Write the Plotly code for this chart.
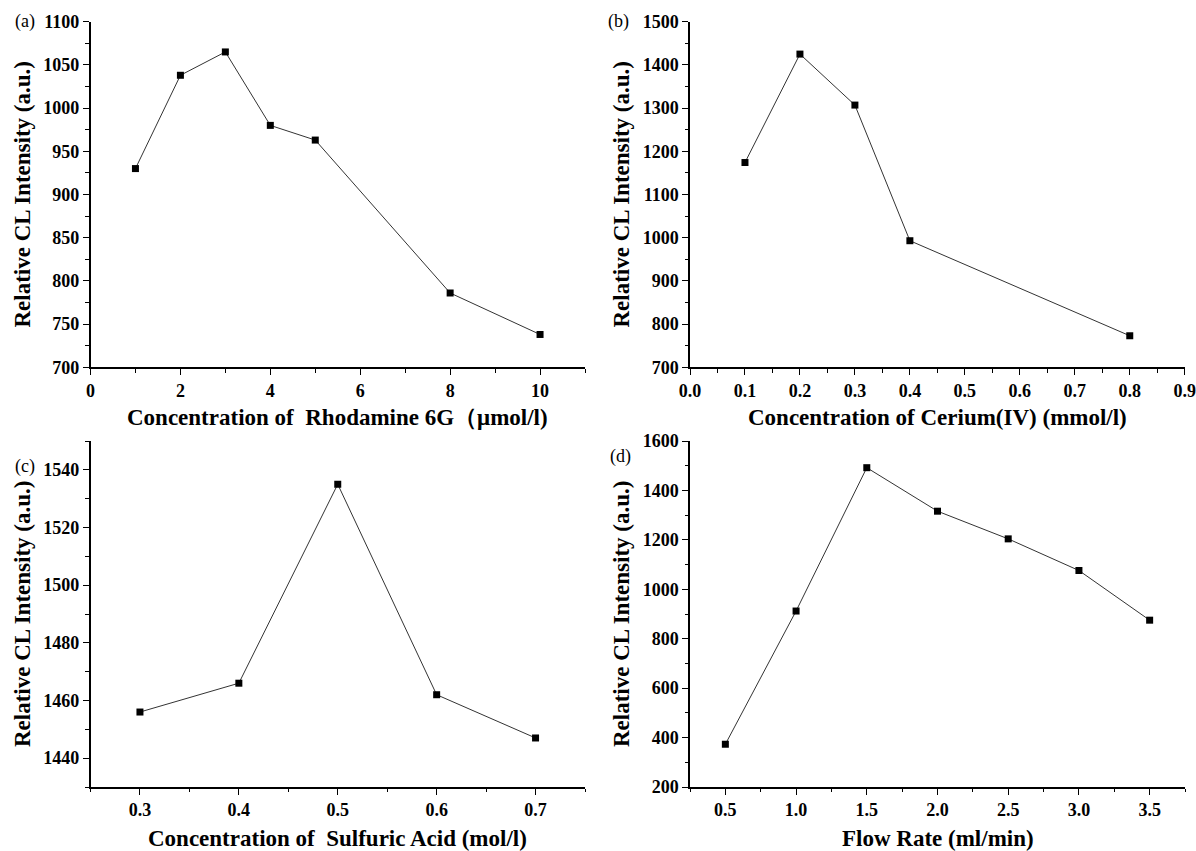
import plotly.graph_objects as go

# ---------------- data ----------------
a_x = [1, 2, 3, 4, 5, 8, 10]
a_y = [930, 1038, 1065, 980, 963, 786, 738]

b_x = [0.1, 0.2, 0.3, 0.4, 0.8]
b_y = [1174, 1425, 1307, 993, 773]

c_x = [0.3, 0.4, 0.5, 0.6, 0.7]
c_y = [1456, 1466, 1535, 1462, 1447]

d_x = [0.5, 1.0, 1.5, 2.0, 2.5, 3.0, 3.5]
d_y = [373, 912, 1492, 1316, 1204, 1076, 875]

y_title = "Relative CL Intensity (a.u.)"
x_titles = [
    "Concentration of  Rhodamine 6G（μmol/l)",
    "Concentration of Cerium(IV) (mmol/l)",
    "Concentration of  Sulfuric Acid (mol/l)",
    "Flow Rate (ml/min)",
]
panel_labels = ["(a)", "(b)", "(c)", "(d)"]

# ---------------- layout geometry ----------------
W, H = 1196, 851
FONT = "Liberation Serif"

def fx(px):
    return px / W

def fy(py):
    return 1 - py / H

left_dom = [fx(90.5), fx(585)]
right_dom = [fx(690), fx(1185)]
top_dom = [fy(367.3), fy(21.7)]
bot_dom = [fy(787), fy(441)]

fig = go.Figure()

series = [(a_x, a_y, "x", "y"), (b_x, b_y, "x2", "y2"),
          (c_x, c_y, "x3", "y3"), (d_x, d_y, "x4", "y4")]
for xs, ys, xa, ya in series:
    fig.add_trace(go.Scatter(
        x=xs, y=ys, xaxis=xa, yaxis=ya, mode="lines+markers",
        line=dict(color="#333333", width=1),
        marker=dict(symbol="square", size=7, color="black"),
        showlegend=False, cliponaxis=False,
    ))

tickfont = dict(family=FONT, size=18, color="black", weight="bold")

def axis_common():
    return dict(showline=True, linecolor="black", linewidth=1.5,
                ticks="outside", ticklen=6, tickwidth=1.3, tickcolor="black",
                showgrid=False, zeroline=False, tickfont=tickfont,
                mirror=False, automargin=False)

def minor(dt, t0=None):
    m = dict(ticks="outside", ticklen=3.5, tickwidth=1.1, tickcolor="black",
             dtick=dt, showgrid=False)
    if t0 is not None:
        m["tick0"] = t0
    return m

fig.update_layout(
    template="none",
    width=W, height=H,
    margin=dict(l=0, r=0, t=0, b=0, autoexpand=False),
    paper_bgcolor="white", plot_bgcolor="white",
    font=dict(family=FONT, color="black"),
    xaxis=dict(domain=left_dom, anchor="y", range=[0, 11], dtick=2, tick0=0,
               minor=minor(1, 0), **axis_common()),
    yaxis=dict(domain=top_dom, anchor="x", range=[700, 1100], dtick=50, tick0=700,
               minor=minor(25, 700), **axis_common()),
    xaxis2=dict(domain=right_dom, anchor="y2", range=[0, 0.9005], dtick=0.1, tick0=0,
                tickformat=".1f", minor=minor(0.05, 0), **axis_common()),
    yaxis2=dict(domain=top_dom, anchor="x2", range=[700, 1500], dtick=100, tick0=700,
                minor=minor(50, 700), **axis_common()),
    xaxis3=dict(domain=left_dom, anchor="y3", range=[0.25, 0.75], dtick=0.1, tick0=0.3,
                tickformat=".1f", minor=minor(0.05, 0.25), **axis_common()),
    yaxis3=dict(domain=bot_dom, anchor="x3", range=[1430, 1550], dtick=20, tick0=1440,
                minor=minor(10, 1430), **axis_common()),
    xaxis4=dict(domain=right_dom, anchor="y4", range=[0.25, 3.75], dtick=0.5, tick0=0.5,
                tickformat=".1f", minor=minor(0.25, 0.25), **axis_common()),
    yaxis4=dict(domain=bot_dom, anchor="x4", range=[200, 1600], dtick=200, tick0=200,
                minor=minor(100, 200), **axis_common()),
)

title_font = dict(family=FONT, size=23, color="black", weight="bold")
ann = []
# x-axis titles
x_title_pos = [((90.5 + 585) / 2, 418), ((690 + 1185) / 2, 418),
               ((90.5 + 585) / 2, 838), ((690 + 1185) / 2, 838)]
for t, (px, py) in zip(x_titles, x_title_pos):
    ann.append(dict(text=t, x=fx(px), y=fy(py), xref="paper", yref="paper",
                    showarrow=False, xanchor="center", yanchor="middle", font=title_font))
# y-axis titles
y_title_pos = [(22, (21.7 + 367.3) / 2), (621, (21.7 + 367.3) / 2),
               (22, (441 + 787) / 2), (621, (441 + 787) / 2)]
for px, py in y_title_pos:
    ann.append(dict(text=y_title, x=fx(px), y=fy(py), xref="paper", yref="paper",
                    showarrow=False, xanchor="center", yanchor="middle", textangle=-90,
                    font=title_font))
# panel labels
lab_pos = [(25, 22), (618, 22), (25, 466), (620, 456)]
for t, (px, py) in zip(panel_labels, lab_pos):
    ann.append(dict(text=t, x=fx(px), y=fy(py), xref="paper", yref="paper",
                    showarrow=False, xanchor="center", yanchor="middle",
                    font=dict(family=FONT, size=18, color="black")))
fig.update_layout(annotations=ann)

fig.write_html(
    "out.html",
    config={"displayModeBar": False},
    post_script="document.body.style.margin='0';document.body.style.overflow='hidden';",
)
